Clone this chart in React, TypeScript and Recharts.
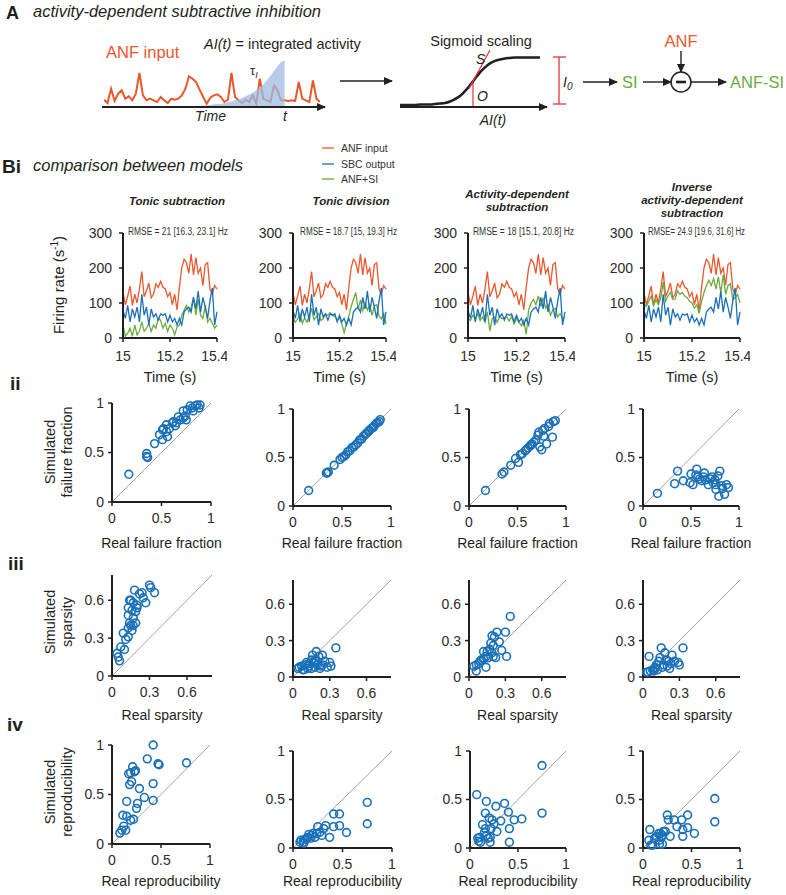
import React from "react";
import {
  ComposedChart,
  LineChart,
  Line,
  Area,
  ScatterChart,
  Scatter,
  XAxis,
  YAxis,
  ReferenceLine,
} from "recharts";

const FONT = "'Liberation Sans', Arial, Helvetica, sans-serif";
const INK = "#231f20";
const TICK_INK = "#2b2b2b";
const ORANGE = "#e9572d";
const BLUE = "#1a70b8";
const GREEN = "#6bab3e";
const RED = "#e0353f";
const DIAG = "#a3a3a3";

// ---- panel A schematic ----
const schematicRate = [
  22, 12, 55, 18, 40, 50, 25, 32, 20, 40, 102, 35, 20, 25, 20, 15, 30, 20, 12, 25, 22, 25, 35, 55, 92, 85,
  75, 52, 30, 10, 28, 35, 38, 30, 15, 22, 102, 30, 20, 12, 22, 15, 35, 10, 85, 25, 20, 15, 65, 50, 20, 20,
  18, 20, 18, 75, 25, 20, 15, 80, 25, 15,
];
const integrationKernel: (number | null)[] = [
  null, null, null, null, null, null, null, null, null, null, null, null, null, null, null, null, null, null,
  null, null, null, null, 0, 0.5, 1, 1.5, 2, 3, 4, 5, 6, 8, 9, 10, 12, 14, 17, 20, 23, 27, 32, 37, 43, 50, 58,
  68, 80, 93, 108, 122, 135, 140, null, null, null, null, null, null, null, null, null, null,
];
const sigmoidInput = [0, 5, 10, 15, 20, 25, 30, 35, 40, 45, 50, 55, 60, 65, 70, 75, 80, 85, 90, 95, 100, 105, 110, 115, 120, 125, 130, 135, 140];
const sigmoidLevel = [
  0.04, 0.04, 0.04, 0.04, 0.05, 0.05, 0.05, 0.06, 0.07, 0.08, 0.11, 0.16, 0.22, 0.32, 0.44, 0.57, 0.7, 0.8,
  0.88, 0.93, 0.96, 0.98, 0.99, 1.0, 1.0, 1.0, 1.0, 1.0, 1.0,
];
const slopeLine = [
  { x: 69, y: 0.37 },
  { x: 90, y: 1.15 },
];

// ---- panel Bi: firing rates (s^-1), 10 ms bins from 15 s ----
const timeTicks = [15, 15.2, 15.4];
const rateTicks = [0, 100, 200, 300];
const anfInput = [
  130, 95, 120, 148, 93, 125, 100, 140, 190, 118, 135, 157, 115, 125, 155, 145, 162, 145, 140, 118, 130, 95,
  125, 80, 145, 200, 225, 215, 185, 240, 180, 230, 185, 200, 150, 210, 215, 140, 125, 150, 140,
];
const sbcOutput = [
  79, 56, 93, 46, 83, 60, 88, 46, 125, 65, 88, 37, 83, 60, 69, 51, 69, 65, 69, 46, 65, 46, 56, 37, 56, 37, 74,
  83, 88, 74, 116, 83, 134, 74, 116, 88, 56, 106, 143, 37, 75,
];
const tonicSubtraction = [
  37, 5, 14, 28, 5, 37, 9, 19, 46, 19, 28, 42, 19, 37, 28, 56, 51, 28, 42, 19, 37, 28, 9, 32, 37, 65, 79, 93,
  74, 88, 116, 65, 111, 65, 56, 93, 46, 56, 42, 28, 37,
];
const tonicDivision = [
  60, 45, 55, 70, 42, 58, 45, 62, 85, 52, 60, 70, 50, 55, 68, 65, 72, 64, 62, 52, 58, 40, 15, 40, 62, 90, 110,
  130, 82, 108, 78, 100, 80, 95, 65, 92, 95, 62, 55, 70, 40,
];
const activityDependent = [
  55, 50, 65, 55, 70, 50, 60, 45, 75, 20, 55, 60, 45, 62, 55, 58, 60, 48, 62, 40, 55, 45, 35, 50, 10, 80, 100,
  110, 95, 120, 90, 115, 85, 95, 65, 80, 85, 60, 70, 55, 60,
];
const inverseActivityDependent = [
  100, 90, 105, 120, 92, 110, 95, 115, 160, 105, 120, 130, 110, 112, 135, 125, 130, 120, 115, 105, 100, 85,
  95, 70, 105, 130, 150, 165, 150, 170, 140, 175, 130, 180, 125, 150, 155, 110, 115, 125, 100,
];
const sampleTimes = anfInput.map((_, i) => Number((15 + i * 0.01).toFixed(2)));

// ---- panels ii-iv: [real, simulated] per cell ----
const unitTicks = [0, 0.5, 1];
const sparsityTicks = [0, 0.3, 0.6];

const failTonicSub: [number, number][] = [
  [0.17, 0.28], [0.35, 0.49], [0.35, 0.46], [0.36, 0.45], [0.43, 0.59], [0.48, 0.68], [0.51, 0.73], [0.51, 0.63],
  [0.55, 0.71], [0.56, 0.66], [0.58, 0.74], [0.61, 0.8], [0.62, 0.81], [0.65, 0.8], [0.64, 0.77], [0.67, 0.86],
  [0.69, 0.83], [0.72, 0.92], [0.74, 0.87], [0.76, 0.93], [0.79, 0.97], [0.81, 0.95], [0.82, 0.92], [0.84, 0.97],
  [0.86, 0.98], [0.88, 0.95], [0.89, 0.98], [0.72, 0.85], [0.75, 0.83], [0.55, 0.78], [0.52, 0.74],
];
const failTonicDiv: [number, number][] = [
  [0.16, 0.16], [0.34, 0.34], [0.35, 0.34], [0.36, 0.35], [0.42, 0.42], [0.48, 0.48], [0.5, 0.5], [0.52, 0.51],
  [0.54, 0.53], [0.56, 0.56], [0.58, 0.57], [0.6, 0.6], [0.62, 0.61], [0.64, 0.63], [0.66, 0.65], [0.68, 0.68],
  [0.7, 0.69], [0.72, 0.72], [0.74, 0.74], [0.75, 0.75], [0.77, 0.77], [0.78, 0.78], [0.8, 0.8], [0.82, 0.81],
  [0.83, 0.83], [0.85, 0.85], [0.86, 0.86], [0.88, 0.87], [0.89, 0.89],
];
const failActDep: [number, number][] = [
  [0.17, 0.16], [0.34, 0.33], [0.36, 0.35], [0.43, 0.42], [0.48, 0.49], [0.51, 0.45], [0.53, 0.53], [0.55, 0.54],
  [0.59, 0.58], [0.61, 0.6], [0.63, 0.62], [0.64, 0.63], [0.67, 0.66], [0.69, 0.68], [0.71, 0.73], [0.73, 0.61],
  [0.75, 0.58], [0.77, 0.72], [0.76, 0.78], [0.78, 0.8], [0.8, 0.64], [0.82, 0.82], [0.83, 0.85], [0.86, 0.71],
  [0.87, 0.87], [0.89, 0.88], [0.72, 0.76], [0.65, 0.64], [0.58, 0.57],
];
const failInverse: [number, number][] = [
  [0.15, 0.13], [0.36, 0.36], [0.33, 0.23], [0.42, 0.26], [0.49, 0.24], [0.5, 0.33], [0.52, 0.22], [0.55, 0.32],
  [0.56, 0.38], [0.59, 0.28], [0.61, 0.26], [0.63, 0.3], [0.64, 0.34], [0.65, 0.27], [0.68, 0.22], [0.7, 0.28],
  [0.72, 0.3], [0.75, 0.27], [0.76, 0.22], [0.76, 0.17], [0.78, 0.31], [0.8, 0.36], [0.79, 0.1], [0.82, 0.21],
  [0.83, 0.18], [0.85, 0.12], [0.87, 0.22], [0.89, 0.19], [0.73, 0.24], [0.57, 0.3],
];

const sparTonicSub: [number, number][] = [
  [0.04, 0.18], [0.05, 0.15], [0.06, 0.12], [0.07, 0.23], [0.1, 0.21], [0.09, 0.34], [0.11, 0.29], [0.13, 0.31],
  [0.13, 0.38], [0.14, 0.42], [0.13, 0.48], [0.13, 0.54], [0.14, 0.6], [0.15, 0.6], [0.16, 0.36], [0.17, 0.4],
  [0.15, 0.4], [0.17, 0.46], [0.19, 0.42], [0.18, 0.68], [0.19, 0.51], [0.17, 0.58], [0.2, 0.54], [0.2, 0.56],
  [0.22, 0.65], [0.24, 0.66], [0.25, 0.62], [0.27, 0.58], [0.3, 0.72], [0.31, 0.7], [0.34, 0.66], [0.16, 0.52],
];
const sparTonicDiv: [number, number][] = [
  [0.04, 0.07], [0.05, 0.08], [0.07, 0.09], [0.09, 0.06], [0.1, 0.1], [0.12, 0.07], [0.13, 0.11], [0.15, 0.07],
  [0.16, 0.18], [0.18, 0.14], [0.19, 0.21], [0.19, 0.13], [0.2, 0.1], [0.22, 0.07], [0.23, 0.09], [0.24, 0.18],
  [0.26, 0.13], [0.28, 0.08], [0.3, 0.12], [0.31, 0.09], [0.35, 0.24], [0.21, 0.17], [0.17, 0.12], [0.13, 0.09],
  [0.18, 0.08], [0.24, 0.1], [0.11, 0.12], [0.08, 0.06], [0.15, 0.14],
];
const sparActDep: [number, number][] = [
  [0.06, 0.05], [0.04, 0.09], [0.06, 0.1], [0.08, 0.11], [0.1, 0.14], [0.12, 0.21], [0.14, 0.08], [0.14, 0.17],
  [0.15, 0.21], [0.17, 0.23], [0.18, 0.28], [0.19, 0.34], [0.21, 0.33], [0.2, 0.26], [0.22, 0.16], [0.23, 0.37],
  [0.25, 0.29], [0.27, 0.22], [0.3, 0.37], [0.31, 0.17], [0.34, 0.5], [0.16, 0.16], [0.19, 0.2], [0.12, 0.15],
  [0.09, 0.13], [0.2, 0.17],
];
const sparInverse: [number, number][] = [
  [0.05, 0.17], [0.03, 0.04], [0.04, 0.04], [0.06, 0.05], [0.08, 0.06], [0.1, 0.08], [0.11, 0.1], [0.12, 0.06],
  [0.13, 0.13], [0.14, 0.16], [0.15, 0.24], [0.17, 0.1], [0.18, 0.2], [0.19, 0.14], [0.2, 0.09], [0.22, 0.07],
  [0.23, 0.11], [0.24, 0.18], [0.26, 0.13], [0.29, 0.12], [0.3, 0.1], [0.33, 0.24], [0.16, 0.08], [0.09, 0.05],
  [0.21, 0.13], [0.1, 0.07],
];

const reproTonicSub: [number, number][] = [
  [0.08, 0.11], [0.1, 0.14], [0.12, 0.18], [0.11, 0.29], [0.15, 0.28], [0.15, 0.43], [0.17, 0.71], [0.18, 0.6],
  [0.19, 0.72], [0.2, 0.63], [0.21, 0.78], [0.23, 0.73], [0.22, 0.25], [0.24, 0.74], [0.25, 0.36], [0.26, 0.41],
  [0.28, 0.56], [0.33, 0.47], [0.36, 0.86], [0.42, 1.0], [0.42, 0.61], [0.42, 0.44], [0.47, 0.81], [0.48, 0.8],
  [0.76, 0.82], [0.19, 0.24], [0.14, 0.14],
];
const reproTonicDiv: [number, number][] = [
  [0.07, 0.06], [0.08, 0.08], [0.1, 0.06], [0.12, 0.09], [0.14, 0.1], [0.15, 0.11], [0.16, 0.14], [0.19, 0.13],
  [0.2, 0.15], [0.22, 0.11], [0.25, 0.22], [0.27, 0.16], [0.31, 0.2], [0.33, 0.23], [0.37, 0.11], [0.41, 0.35],
  [0.41, 0.22], [0.47, 0.35], [0.47, 0.23], [0.54, 0.16], [0.75, 0.47], [0.75, 0.25], [0.24, 0.15], [0.18, 0.1],
  [0.29, 0.13], [0.11, 0.05],
];
const reproActDep: [number, number][] = [
  [0.07, 0.55], [0.08, 0.1], [0.09, 0.07], [0.1, 0.11], [0.11, 0.06], [0.13, 0.24], [0.15, 0.16], [0.16, 0.2],
  [0.17, 0.48], [0.16, 0.36], [0.2, 0.31], [0.19, 0.1], [0.21, 0.06], [0.22, 0.2], [0.23, 0.29], [0.25, 0.25],
  [0.27, 0.43], [0.28, 0.17], [0.32, 0.28], [0.36, 0.46], [0.4, 0.37], [0.41, 0.2], [0.41, 0.06], [0.46, 0.29],
  [0.54, 0.3], [0.75, 0.85], [0.75, 0.36], [0.17, 0.13], [0.21, 0.11],
];
const reproInverse: [number, number][] = [
  [0.07, 0.19], [0.06, 0.08], [0.08, 0.03], [0.1, 0.03], [0.12, 0.1], [0.14, 0.12], [0.16, 0.15], [0.17, 0.04],
  [0.18, 0.15], [0.19, 0.11], [0.2, 0.04], [0.21, 0.17], [0.23, 0.17], [0.25, 0.34], [0.26, 0.29], [0.28, 0.12],
  [0.32, 0.29], [0.35, 0.22], [0.4, 0.29], [0.41, 0.12], [0.41, 0.19], [0.46, 0.21], [0.46, 0.34], [0.53, 0.15],
  [0.74, 0.51], [0.74, 0.27], [0.17, 0.08], [0.2, 0.13],
];

// ---- layout ----
const ratePanels = [
  { left: 123, w: 94, model: tonicSubtraction, rmse: "RMSE = 21 [16.3, 23.1] Hz", rmseX: 128, rmseLen: 100, title: ["Tonic subtraction"], titleX: 177, titleY: 205 },
  { left: 293, w: 93, model: tonicDivision, rmse: "RMSE = 18.7 [15, 19.3] Hz", rmseX: 300, rmseLen: 97, title: ["Tonic division"], titleX: 351, titleY: 205 },
  { left: 468, w: 97, model: activityDependent, rmse: "RMSE = 18 [15.1, 20.8] Hz", rmseX: 473, rmseLen: 101, title: ["Activity-dependent", "subtraction"], titleX: 517, titleY: 198 },
  { left: 644, w: 96, model: inverseActivityDependent, rmse: "RMSE= 24.9 [19.6, 31.6] Hz", rmseX: 648, rmseLen: 97, title: ["Inverse", "activity-dependent", "subtraction"], titleX: 692, titleY: 191 },
];
const RATE_TOP = 233;
const RATE_H = 105;
const TITLE_STEP = 12.8;

const scatterRows = [
  {
    max: 1, ticks: unitTicks, xLabel: "Real failure fraction", yLabel: "failure fraction", labelY: 548, yMid: 452, numeral: "ii", numeralX: 10, numeralY: 390,
    panels: [
      { left: 112, top: 403, w: 99, h: 99, pts: failTonicSub },
      { left: 293, top: 409, w: 98, h: 97, pts: failTonicDiv },
      { left: 469, top: 409, w: 97, h: 97, pts: failActDep },
      { left: 643, top: 409, w: 96, h: 97, pts: failInverse },
    ],
  },
  {
    max: 0.8, ticks: sparsityTicks, xLabel: "Real sparsity", yLabel: "sparsity", labelY: 720, yMid: 622, numeral: "iii", numeralX: 8, numeralY: 570,
    panels: [
      { left: 112, top: 575, w: 100, h: 101, pts: sparTonicSub },
      { left: 293, top: 580, w: 98, h: 97, pts: sparTonicDiv },
      { left: 469, top: 580, w: 97, h: 97, pts: sparActDep },
      { left: 643, top: 580, w: 97, h: 97, pts: sparInverse },
    ],
  },
  {
    max: 1, ticks: unitTicks, xLabel: "Real reproducibility", yLabel: "reproducibility", labelY: 886, yMid: 792, numeral: "iv", numeralX: 7, numeralY: 731,
    panels: [
      { left: 112, top: 745, w: 98, h: 99, pts: reproTonicSub },
      { left: 293, top: 751, w: 99, h: 97, pts: reproTonicDiv },
      { left: 470, top: 751, w: 96, h: 97, pts: reproActDep },
      { left: 643, top: 751, w: 97, h: 97, pts: reproInverse },
    ],
  },
];

const tickStyle = { fontSize: 14, fill: TICK_INK, fontFamily: FONT };
const axisLine = { stroke: INK, strokeWidth: 2 };
const tickLine = { stroke: INK, strokeWidth: 1.5 };
const Y_W = 45;

function RatePanel({ left, w, model }: { left: number; w: number; model: number[] }) {
  const data = sampleTimes.map((t, i) => ({ t, anf: anfInput[i], sbc: sbcOutput[i], model: model[i] }));
  return (
    <div style={{ position: "absolute", left: left - Y_W, top: RATE_TOP - 10 }}>
      <LineChart width={w + Y_W + 10} height={RATE_H + 40} data={data} margin={{ top: 10, right: 10, bottom: 0, left: 0 }}>
        <XAxis dataKey="t" type="number" domain={[15, 15.4]} ticks={timeTicks} height={30} tickSize={4} tickMargin={9}
          axisLine={axisLine} tickLine={tickLine} tick={tickStyle} />
        <YAxis type="number" domain={[0, 300]} ticks={rateTicks} width={Y_W} tickSize={4} tickMargin={7}
          axisLine={axisLine} tickLine={tickLine} tick={tickStyle} />
        <Line dataKey="anf" stroke={ORANGE} strokeWidth={1.3} dot={false} isAnimationActive={false} type="linear" />
        <Line dataKey="model" stroke={GREEN} strokeWidth={1.3} dot={false} isAnimationActive={false} type="linear" />
        <Line dataKey="sbc" stroke={BLUE} strokeWidth={1.3} dot={false} isAnimationActive={false} type="linear" />
      </LineChart>
    </div>
  );
}

const ring = (props: any) => (
  <circle cx={props.cx} cy={props.cy} r={3.9} fill="none" stroke={BLUE} strokeWidth={1.6} />
);

function ScatterPanel({ left, top, w, h, pts, max, ticks }: { left: number; top: number; w: number; h: number; pts: [number, number][]; max: number; ticks: number[] }) {
  const data = pts.map(([x, y]) => ({ x, y }));
  return (
    <div style={{ position: "absolute", left: left - Y_W, top: top - 10 }}>
      <ScatterChart width={w + Y_W + 10} height={h + 40} margin={{ top: 10, right: 10, bottom: 0, left: 0 }}>
        <XAxis dataKey="x" type="number" domain={[0, max]} ticks={ticks} height={30} tickSize={4} tickMargin={7}
          axisLine={axisLine} tickLine={tickLine} tick={tickStyle} />
        <YAxis dataKey="y" type="number" domain={[0, max]} ticks={ticks} width={Y_W} tickSize={4} tickMargin={4}
          axisLine={axisLine} tickLine={tickLine} tick={tickStyle} />
        <ReferenceLine segment={[{ x: 0, y: 0 }, { x: max, y: max }]} stroke={DIAG} strokeWidth={1} />
        <Scatter data={data} shape={ring} isAnimationActive={false} />
      </ScatterChart>
    </div>
  );
}

function Arrow({ x1, y1, x2, y2 }: { x1: number; y1: number; x2: number; y2: number }) {
  return <line x1={x1} y1={y1} x2={x2} y2={y2} stroke={INK} strokeWidth={1.4} markerEnd="url(#arrowHead)" />;
}

export default function App() {
  const traceData = schematicRate.map((r, i) => ({ i, rate: r, kernel: integrationKernel[i] }));
  const sigmoidData = sigmoidInput.map((x, i) => ({ x, y: sigmoidLevel[i] }));

  return (
    <div style={{ position: "absolute", left: 0, top: 0, width: 786, height: 895, background: "#fff", fontFamily: FONT, overflow: "hidden" }}>
      {/* A: input trace with integration window */}
      <div style={{ position: "absolute", left: 104, top: 57 }}>
        <ComposedChart width={216} height={50} data={traceData} margin={{ top: 0, right: 0, bottom: 0, left: 0 }}>
          <XAxis dataKey="i" type="number" domain={[0, 61]} hide />
          <YAxis type="number" domain={[0, 150]} hide />
          <Line dataKey="rate" stroke={ORANGE} strokeWidth={2} dot={false} isAnimationActive={false} type="linear" zIndex={100} />
          <Area dataKey="kernel" fill="#9dbbe2" fillOpacity={0.75} stroke="none" isAnimationActive={false} type="linear" zIndex={200} />
        </ComposedChart>
      </div>

      {/* A: sigmoid scaling */}
      <div style={{ position: "absolute", left: 400, top: 50 }}>
        <LineChart width={140} height={57} data={sigmoidData} margin={{ top: 0, right: 0, bottom: 0, left: 0 }}>
          <XAxis dataKey="x" type="number" domain={[0, 140]} hide />
          <YAxis type="number" domain={[0, 1.15]} hide />
          <ReferenceLine segment={[{ x: 73, y: 0 }, { x: 73, y: 0.52 }]} stroke={RED} strokeWidth={1.2} />
          <Line dataKey="y" stroke={INK} strokeWidth={2.6} dot={false} isAnimationActive={false} type="monotone" />
          <Line data={slopeLine} dataKey="y" stroke={RED} strokeWidth={1.2} dot={false} isAnimationActive={false} type="linear" />
        </LineChart>
      </div>

      {ratePanels.map((p, k) => (
        <RatePanel key={k} left={p.left} w={p.w} model={p.model} />
      ))}

      {scatterRows.map((row, r) =>
        row.panels.map((p, k) => (
          <ScatterPanel key={`${r}-${k}`} left={p.left} top={p.top} w={p.w} h={p.h} pts={p.pts} max={row.max} ticks={row.ticks} />
        ))
      )}

      <svg width={786} height={895} style={{ position: "absolute", left: 0, top: 0, pointerEvents: "none" }} fontFamily={FONT}>
        <defs>
          <marker id="arrowHead" markerWidth="9" markerHeight="8" refX="8" refY="4" orient="auto" markerUnits="userSpaceOnUse">
            <path d="M0,0 L9,4 L0,8 z" fill={INK} />
          </marker>
        </defs>

        {/* panel A */}
        <text x={6} y={19} fontSize={18} fontWeight="bold" fill={INK}>A</text>
        <text x={33} y={17} fontSize={16.5} fontStyle="italic" fill={INK}>activity-dependent subtractive inhibition</text>
        <text x={106} y={58} fontSize={16.5} fill={ORANGE}>ANF input</text>
        <text x={204} y={49} fontSize={14.5} fill={INK}>
          <tspan fontStyle="italic">AI(t)</tspan> = integrated activity
        </text>
        <text x={250} y={75} fontSize={13} fill={INK}>τ<tspan fontSize={9} dy={3} fontStyle="italic">I</tspan></text>
        <line x1={102} y1={107} x2={325} y2={107} stroke={INK} strokeWidth={1.8} markerEnd="url(#arrowHead)" />
        <text x={195} y={121} fontSize={14} fontStyle="italic" fill={INK}>Time</text>
        <text x={283} y={121} fontSize={14} fontStyle="italic" fill={INK}>t</text>
        <Arrow x1={340} y1={81} x2={392} y2={81} />

        <text x={481} y={46} fontSize={14.5} textAnchor="middle" fill={INK}>Sigmoid scaling</text>
        <line x1={400} y1={107} x2={547} y2={107} stroke={INK} strokeWidth={1.8} markerEnd="url(#arrowHead)" />
        <text x={476} y={64} fontSize={14} fontStyle="italic" fill={INK}>S</text>
        <text x={477} y={101} fontSize={14} fontStyle="italic" fill={INK}>O</text>
        <text x={493} y={125} fontSize={14} fontStyle="italic" textAnchor="middle" fill={INK}>AI(t)</text>
        <line x1={559} y1={57} x2={559} y2={104} stroke={RED} strokeWidth={1.3} />
        <line x1={553} y1={57} x2={566} y2={57} stroke={RED} strokeWidth={1.3} />
        <line x1={553} y1={104} x2={566} y2={104} stroke={RED} strokeWidth={1.3} />
        <text x={563} y={87} fontSize={14} fontStyle="italic" fill={INK}>I<tspan fontSize={10} dy={3}>0</tspan></text>
        <Arrow x1={583} y1={82} x2={617} y2={82} />
        <text x={622} y={88} fontSize={16.5} fill={GREEN}>SI</text>
        <Arrow x1={643} y1={82} x2={671} y2={82} />
        <circle cx={681} cy={82} r={10} fill="none" stroke={INK} strokeWidth={1.5} />
        <line x1={676} y1={82} x2={686} y2={82} stroke={INK} strokeWidth={2.6} />
        <text x={681} y={47} fontSize={16.5} textAnchor="middle" fill={ORANGE}>ANF</text>
        <Arrow x1={681} y1={51} x2={681} y2={72} />
        <Arrow x1={691} y1={82} x2={726} y2={82} />
        <text x={730} y={88} fontSize={16.5} fill={GREEN}>ANF-SI</text>

        {/* panel Bi header + legend */}
        <text x={2} y={173} fontSize={19} fontWeight="bold" fill={INK}>Bi</text>
        <text x={33} y={171} fontSize={16.5} fontStyle="italic" fill={INK}>comparison between models</text>
        {[
          { label: "ANF input", color: ORANGE, y: 148 },
          { label: "SBC output", color: BLUE, y: 164 },
          { label: "ANF+SI", color: GREEN, y: 179 },
        ].map((it) => (
          <g key={it.label}>
            <line x1={322} y1={it.y} x2={334} y2={it.y} stroke={it.color} strokeWidth={1.3} />
            <text x={341} y={it.y + 4} fontSize={10.5} fill="#333">{it.label}</text>
          </g>
        ))}

        {ratePanels.map((p, k) => (
          <g key={`t${k}`}>
            {p.title.map((line, j) => (
              <text key={j} x={p.titleX} y={p.titleY + j * TITLE_STEP} fontSize={11.5} fontWeight="bold" fontStyle="italic" textAnchor="middle" fill={INK}>
                {line}
              </text>
            ))}
            <text x={p.rmseX} y={235} fontSize={10} textLength={p.rmseLen} lengthAdjust="spacingAndGlyphs" fill="#333">{p.rmse}</text>
            <text x={p.left + p.w / 2} y={382} fontSize={14.5} textAnchor="middle" fill={INK}>Time (s)</text>
          </g>
        ))}
        <text transform="translate(64,285) rotate(-90)" fontSize={15} textAnchor="middle" fill={INK}>
          Firing rate (s<tspan fontSize={10} dy={-6}>-1</tspan><tspan dy={6}>)</tspan>
        </text>

        {scatterRows.map((row, r) => (
          <g key={`r${r}`}>
            <text x={row.numeralX} y={row.numeralY} fontSize={19} fontWeight="bold" fill={INK}>{row.numeral}</text>
            <text transform={`translate(55,${row.yMid}) rotate(-90)`} fontSize={14.5} textAnchor="middle" fill={INK}>Simulated</text>
            <text transform={`translate(72,${row.yMid}) rotate(-90)`} fontSize={14.5} textAnchor="middle" fill={INK}>{row.yLabel}</text>
            {row.panels.map((p, k) => (
              <text key={k} x={p.left + p.w / 2} y={row.labelY} fontSize={14} textAnchor="middle" fill={INK}>{row.xLabel}</text>
            ))}
          </g>
        ))}
      </svg>
    </div>
  );
}
